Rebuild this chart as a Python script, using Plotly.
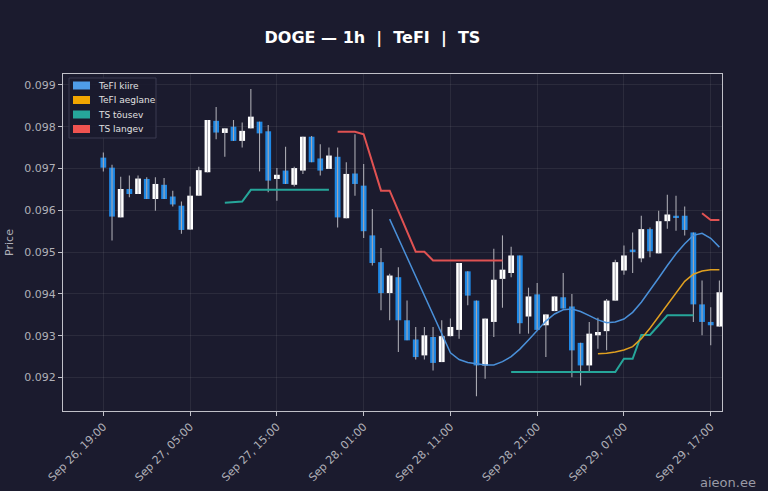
import pandas as pd
import plotly.graph_objects as go

start = pd.Timestamp("2025-09-26 19:00")
opens = [972.6,970.2,958.3,965.1,963.9,967.5,962.7,966.1,963.3,961.1,955.4,963.5,969.1,981.4,978.5,980.0,976.6,979.6,981.2,978.9,967.5,969.5,966.1,969.5,977.6,972.4,969.9,972.8,958.1,968.8,965.9,954.0,947.6,940.2,944.0,933.7,929.1,925.3,929.7,923.7,929.9,931.4,945.4,938.4,922.9,933.3,943.6,945.0,949.2,934.6,939.9,932.5,935.9,939.2,937.0,928.3,922.9,930.1,931.1,938.4,945.6,950.6,948.5,955.5,949.7,957.4,958.7,958.7,954.7,937.5,933.3,932.2]
highs = [973.8,970.9,968.0,968.3,968.3,967.9,967.9,967.7,964.7,962.1,965.7,970.4,981.6,984.7,979.6,981.6,981.0,989.0,981.2,980.4,970.1,975.2,970.4,977.6,977.8,975.8,975.0,975.0,971.5,978.2,971.1,960.3,951.0,944.8,946.4,938.4,932.1,932.1,932.1,933.7,934.1,947.4,945.4,938.4,934.1,950.8,954.0,951.3,949.2,941.5,942.6,935.1,939.4,945.0,940.0,928.3,933.3,934.3,938.8,948.2,951.6,954.7,958.7,955.9,959.9,963.7,963.5,960.9,954.7,943.2,936.8,943.2]
lows = [969.3,952.8,958.4,963.1,963.9,962.7,959.9,962.7,960.9,954.4,955.4,963.5,969.1,977.0,972.8,976.6,975.0,979.6,969.3,964.3,962.3,966.3,965.7,968.7,971.5,968.3,969.9,955.9,958.1,963.5,953.4,946.8,936.1,933.7,926.1,928.9,924.3,924.3,921.7,923.7,929.9,929.3,937.3,915.5,919.7,929.7,936.7,944.0,930.5,930.5,931.4,924.9,935.9,936.5,920.1,918.1,921.3,926.9,926.5,938.4,944.6,945.0,947.6,948.8,949.7,955.6,955.1,954.0,933.3,930.1,927.7,932.2]
closes = [970.2,958.5,965.1,963.9,967.6,962.7,966.3,962.7,961.4,955.3,963.5,969.6,981.6,978.6,979.6,976.6,979.0,982.4,978.4,967.1,968.5,966.3,970.1,977.6,971.5,969.5,973.1,958.3,968.7,966.3,955.0,947.4,940.2,944.4,933.7,928.9,924.9,930.1,923.5,929.9,932.1,947.4,939.6,922.9,934.1,943.4,945.8,949.2,933.0,939.4,931.4,935.1,939.4,936.5,926.5,922.9,930.5,930.9,938.4,947.6,949.2,950.0,955.5,950.2,957.4,959.0,958.3,955.3,937.5,933.3,932.5,940.4]

# indicator series (index = candle number from start)
ts_up_1 = {14:961.8,15:961.9,16:962.1,17:964.9,18:964.9,19:964.9,20:964.9,21:964.9,22:964.9,23:964.9,24:964.9,25:964.9,26:964.9}
ts_up_2 = {47:921.3,48:921.3,49:921.3,50:921.3,51:921.3,52:921.3,53:921.3,54:921.3,55:921.3,56:921.3,57:921.3,58:921.3,59:921.3,60:924.5,61:924.5,62:930.2,63:930.2,64:932.5,65:934.9,66:934.9,67:934.9,68:934.9}
ts_down_1 = {27:978.8,28:978.8,29:978.8,30:978.2,31:971.5,32:964.7,33:964.7,34:959.8,35:955.0,36:950.1,37:950.1,38:948.0,39:948.0,40:948.0,41:948.0,42:948.0,43:948.0,44:948.0,45:948.0,46:948.0}
ts_down_2 = {69:959.3,70:957.7,71:957.7}
tefi_fast = [957.9,953.3,948.6,944.0,939.4,934.7,930.1,925.9,924.3,923.6,923.3,923.0,923.0,923.8,925.0,926.8,929.0,931.3,933.5,935.2,936.2,936.4,935.8,934.8,933.8,933.1,933.3,934.0,935.6,938.0,940.8,943.8,946.8,949.6,952.0,954.0,954.5,953.3,951.2]
tefi_fast_start = 33
tefi_slow = [925.7,925.8,926.1,926.6,927.4,929.3,931.8,934.6,937.4,940.4,943.0,944.7,945.5,945.8,945.8]
tefi_slow_start = 57

legend_names = ["TeFI kiire", "TeFI aeglane", "TS tõusev", "TS langev"]
legend_colors = ["#4f9de8", "#f0a500", "#26a69a", "#ef5350"]

SC = 1e-4
n = len(opens)
times = [start + pd.Timedelta(hours=i) for i in range(n)]
o = [v*SC for v in opens]; h = [v*SC for v in highs]; l = [v*SC for v in lows]; c = [v*SC for v in closes]

fig = go.Figure()
wx, wy = [], []
for i in range(n):
    wx += [times[i], times[i], None]; wy += [l[i], h[i], None]
fig.add_trace(go.Scatter(x=wx, y=wy, mode="lines", line=dict(color="#a8a8b0", width=1.1), showlegend=False, hoverinfo="skip"))
base = [min(a, b) for a, b in zip(o, c)]
hgt = [max(abs(b - a), 0.000012) for a, b in zip(o, c)]
cols = ["#ffffff" if b >= a else "#1e88e5" for a, b in zip(o, c)]
fig.add_trace(go.Bar(x=times, y=hgt, base=base, marker=dict(color=cols, line=dict(width=0)), width=2.4e6, showlegend=False))

def seg(d, color, w=2):
    ks = sorted(d)
    fig.add_trace(go.Scatter(x=[times[k] for k in ks], y=[d[k]*SC for k in ks], mode="lines", line=dict(color=color, width=w), showlegend=False))

seg(ts_up_1, "#26a69a"); seg(ts_up_2, "#26a69a")
seg(ts_down_1, "#e05252"); seg(ts_down_2, "#e05252")
seg({tefi_fast_start+i: v for i, v in enumerate(tefi_fast)}, "#4a90d9", 1.5)
seg({tefi_slow_start+i: v for i, v in enumerate(tefi_slow)}, "#e0a020", 1.5)

# manual legend (paper coords: plot spans x 63..722 px, y 74..411 px)
W, H = 659.0, 337.0
px = lambda x: (x - 63) / W
py = lambda y: 1 - (y - 74) / H
shapes = [dict(type="rect", xref="paper", yref="paper", x0=px(69), x1=px(156), y0=py(138), y1=py(78),
               fillcolor="rgba(27,27,46,0.9)", line=dict(color="#3a3a50", width=1))]
annotations = []
for k, (nm, col) in enumerate(zip(legend_names, legend_colors)):
    yc = 85.5 + k * 14.5
    shapes.append(dict(type="rect", xref="paper", yref="paper", x0=px(73), x1=px(90), y0=py(yc + 4), y1=py(yc - 4),
                       fillcolor=col, line=dict(width=0)))
    annotations.append(dict(text=nm, xref="paper", yref="paper", x=px(96), y=py(yc), xanchor="left", yanchor="middle",
                            showarrow=False, font=dict(size=9, color="#e0e0e0")))
annotations.append(dict(text="aieon.ee", xref="paper", yref="paper", x=1.055, y=-0.24, xanchor="right", yanchor="bottom",
                        showarrow=False, font=dict(size=13, color="#9a9aa5")))

tickvals = [start + pd.Timedelta(hours=10*k) for k in range(8)]
fig.update_layout(
    width=768, height=491, barmode="overlay", showlegend=False,
    paper_bgcolor="#1b1b2e", plot_bgcolor="#1b1b2e",
    font=dict(family="DejaVu Sans", color="#b0b0b8", size=11),
    margin=dict(l=63, r=46, t=74, b=80),
    title=dict(text="<b>DOGE — 1h  |  TeFI  |  TS</b>", x=0.485, xanchor="center", y=0.935, font=dict(size=16, color="#ffffff")),
    xaxis=dict(type="date", range=[pd.Timestamp("2025-09-26 14:21"), pd.Timestamp("2025-09-29 18:18")],
               tickvals=tickvals, tickformat="%b %d, %H:%M", tickangle=-45, automargin=False,
               showgrid=True, gridcolor="rgba(255,255,255,0.07)", showline=True, linecolor="#c0c0c8", mirror=True,
               ticks="outside", ticklen=4, tickcolor="#c0c0c8", zeroline=False),
    yaxis=dict(range=[0.0912, 0.09926], dtick=0.001, tickformat=".3f", automargin=False,
               title=dict(text="Price", font=dict(size=11), standoff=8),
               showgrid=True, gridcolor="rgba(255,255,255,0.07)", showline=True, linecolor="#c0c0c8", mirror=True,
               ticks="outside", ticklen=4, tickcolor="#c0c0c8", zeroline=False),
    shapes=shapes, annotations=annotations,
)
fig.write_html("out.html", config={"displayModeBar": False})
with open("out.html", encoding="utf-8") as f:
    s = f.read()
s = s.replace("<body>", '<body style="margin:0;background:#1b1b2e">', 1)
with open("out.html", "w", encoding="utf-8") as f:
    f.write(s)
